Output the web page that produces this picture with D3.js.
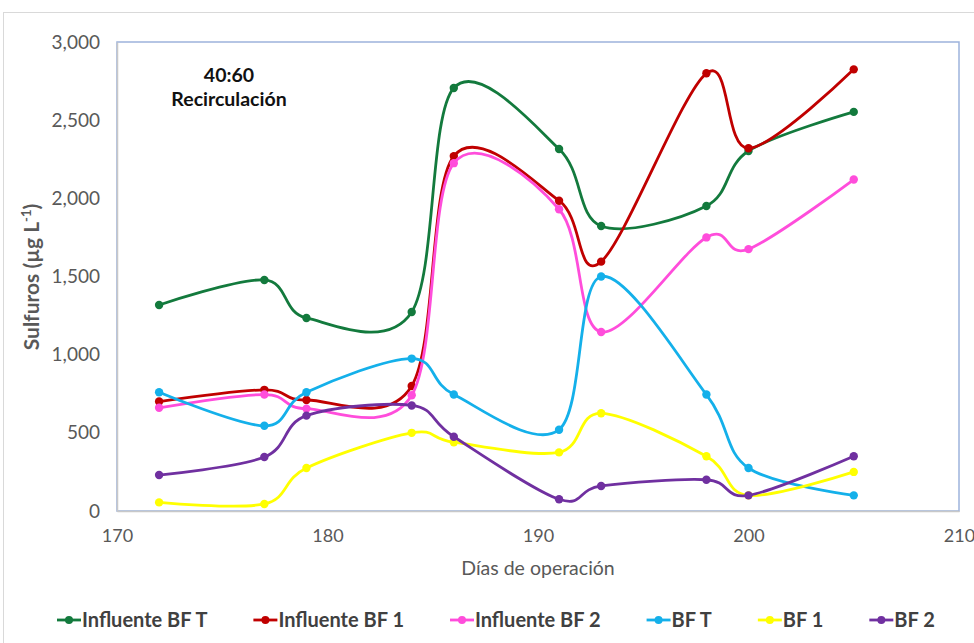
<!DOCTYPE html>
<html><head><meta charset="utf-8">
<script src="https://cdn.jsdelivr.net/npm/d3@7"></script>
<style>
body{margin:0;background:#fff;}
text{font-family:Lato,"Open Sans",sans-serif;}
</style></head>
<body><svg id="c" width="974" height="643"></svg>
<script>
const days = [172,177,179,184,186,191,193,198,200,205];
const influenteBFT = [1318,1478,1235,1273,2706,2316,1823,1951,2303,2553];
const influenteBF1 = [700,775,710,800,2270,1985,1595,2800,2320,2825];
const influenteBF2 = [660,745,655,740,2225,1930,1145,1750,1675,2120];
const bfT = [760,545,760,975,745,520,1500,745,275,100];
const bf1 = [55,45,275,500,440,375,625,350,100,250];
const bf2 = [230,345,610,675,475,75,160,200,100,350];
const seriesNames = ["Influente BF T","Influente BF 1","Influente BF 2","BF T","BF 1","BF 2"];
const seriesColors = ["#137a3d","#c00000","#ff4ddb","#14b0ea","#ffff00","#7030a0"];
const xTicks = [170,180,190,200,210];
const yTicks = [0,500,1000,1500,2000,2500,3000];

const seriesValues = [influenteBFT,influenteBF1,influenteBF2,bfT,bf1,bf2];
const svg = d3.select("#c");
const L=117,R=959,T=42,B=511;
const x = d3.scaleLinear().domain([170,210]).range([L,R]);
const y = d3.scaleLinear().domain([0,3000]).range([B,T]);
const grey="#595959";

// chart area border
svg.append("rect").attr("x",3.5).attr("y",12.5).attr("width",990).attr("height",650)
  .attr("fill","none").attr("stroke","#d9d9d9");

// plot area border
svg.append("rect").attr("x",L).attr("y",T).attr("width",R-L).attr("height",B-T)
  .attr("fill","none").attr("stroke","#9db3dc").attr("stroke-width",1.5);

// axes
const ya = svg.append("g").attr("transform",`translate(${L},0)`)
  .call(d3.axisLeft(y).tickValues(yTicks).tickSize(0).tickPadding(17).tickFormat(d3.format(",")));
const xa = svg.append("g").attr("transform",`translate(0,${B})`)
  .call(d3.axisBottom(x).tickValues(xTicks).tickSize(0).tickPadding(18));
[ya,xa].forEach(a=>{
  a.select(".domain").attr("stroke","#c8c8c8").attr("stroke-width",1.5);
  a.selectAll("text").attr("fill",grey).style("font-size","19px").style("font-family","Lato,sans-serif");
});
xa.selectAll("text").style("font-size","18px");

// axis titles
svg.append("text").attr("x",(L+R)/2).attr("y",575).attr("text-anchor","middle")
  .attr("fill",grey).style("font-size","19.5px").text("Días de operación");
const yt = svg.append("text").attr("transform","translate(39,277) rotate(-90)")
  .attr("text-anchor","middle").attr("fill",grey).style("font-size","21px").style("font-weight","bold");
yt.append("tspan").text("Sulfuros (µg L");
yt.append("tspan").attr("dy",-8).style("font-size","13px").text("-1");
yt.append("tspan").attr("dy",8).text(")");

// annotation
svg.append("text").attr("x",229).attr("y",82).attr("text-anchor","middle")
  .style("font-size","19.5px").style("font-weight","bold").attr("fill","#111").text("40:60");
svg.append("text").attr("x",229).attr("y",106).attr("text-anchor","middle")
  .style("font-size","19.5px").style("font-weight","bold").attr("fill","#111").text("Recirculación");

// lines
const line = d3.line().x(d=>x(d[0])).y(d=>y(d[1])).curve(d3.curveCardinal.tension(0));
seriesValues.forEach((vals,i)=>{
  const pts = days.map((d,j)=>[d,vals[j]]);
  const g = svg.append("g");
  g.append("path").attr("d",line(pts)).attr("fill","none")
    .attr("stroke",seriesColors[i]).attr("stroke-width",2.8);
  g.selectAll("circle").data(pts).join("circle")
    .attr("cx",d=>x(d[0])).attr("cy",d=>y(d[1])).attr("r",4.2).attr("fill",seriesColors[i]);
});

// legend
let lx = 57;
const ly = 620;
seriesNames.forEach((n,i)=>{
  const g = svg.append("g");
  g.append("line").attr("x1",lx).attr("x2",lx+24).attr("y1",ly).attr("y2",ly)
    .attr("stroke",seriesColors[i]).attr("stroke-width",2.8);
  g.append("circle").attr("cx",lx+12).attr("cy",ly).attr("r",4).attr("fill",seriesColors[i]);
  const t = g.append("text").attr("x",lx+25).attr("y",ly+7).attr("fill","#404040")
    .style("font-size","20px").style("font-weight","bold").text(n);
  lx += 25 + t.node().getComputedTextLength() + 46;
});
</script></body></html>
